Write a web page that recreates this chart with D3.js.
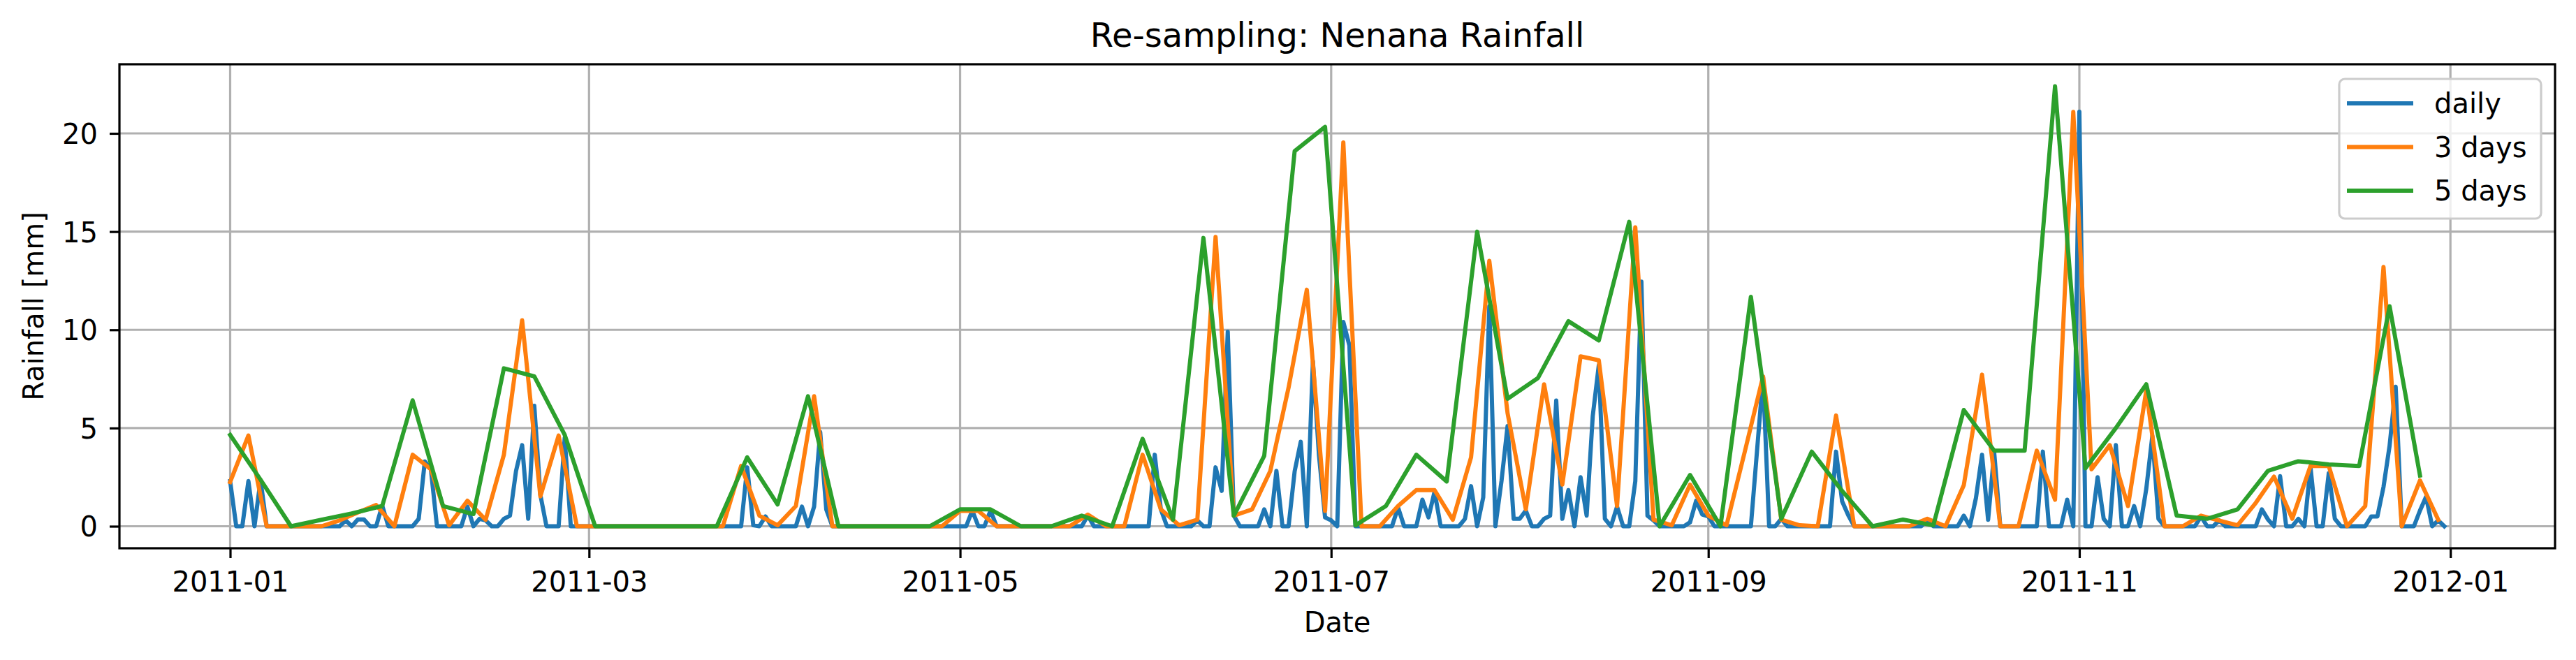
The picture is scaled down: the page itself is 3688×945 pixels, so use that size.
<!DOCTYPE html>
<html><head><meta charset="utf-8">
<script src="https://cdn.jsdelivr.net/npm/d3@7"></script>
<style>body{margin:0;background:#fff} svg{display:block} text{font-family:"DejaVu Sans",sans-serif}</style>
</head><body>
<svg id="chart" width="3688" height="945"></svg>
<script>
// ---------------- DATA ----------------
const startDate = "2011-01-01";
// daily rainfall [mm], one value per day from 2011-01-01
const daily = [
 2.3,0,0,2.3,0,2.35,0,0,0,0,
 0,0,0,0,0,0,0,0,0,0.3,
 0,0.35,0.35,0,0,1.05,0,0,0,0,
 0,0.38,3.3,2.9,0,0,0,0,0,1.0,
 0,0.38,0.3,0,0,0.38,0.54,2.82,4.13,0.38,
 6.13,1.6,0,0,0,4.5,0,0,0,0,
 0,0,0,0,0,0,0,0,0,0,
 0,0,0,0,0,0,0,0,0,0,
 0,0,0,0,0,3.0,0.05,0,0.5,0,
 0,0,0,0,1.0,0,1.0,4.8,0.85,0,
 0,0,0,0,0,0,0,0,0,0,
 0,0,0,0,0,0,0,0,0,0,
 0,0,0.8,0,0,0.8,0,0,0,0,
 0,0,0,0,0,0,0,0,0,0,
 0,0.55,0,0,0,0,0,0,0,0,
 0,0,3.64,0.86,0,0,0,0,0,0.3,
 0,0,3.0,1.8,9.9,0.54,0,0,0,0,
 0.86,0,2.82,0,0,2.8,4.3,0,8.4,3.6,
 0.45,0.3,0,10.4,9.2,0,0,0,0,0,
 0,0,0.95,0,0,0,1.35,0.45,1.76,0,
 0,0,0,0.38,2.04,0,1.47,11.2,0,2.3,
 5.1,0.38,0.38,0.8,0,0,0.38,0.54,6.4,0.38,
 1.84,0,2.5,0.54,5.6,8.2,0.38,0,1.0,0,
 0,2.3,12.45,0.54,0.3,0,0,0,0,0,
 0.2,1.3,0.6,0.5,0,0,0,0,0,0,
 0,3.8,7.6,0,0,0.38,0,0,0,0,
 0,0,0,0,3.8,1.27,0.57,0,0,0,
 0,0,0,0,0,0,0,0,0,0.35,
 0,0,0,0,0,0.54,0,1.44,3.64,0.33,
 3.75,0,0,0,0,0,0,0,3.8,0,
 0,0,1.35,0,21.1,0,0,2.5,0.38,0,
 4.13,0,0,1.03,0,1.9,4.6,0.38,0,0,
 0,0,0,0,0.5,0,0,0.3,0,0,
 0,0,0,0,0.86,0.35,0,2.55,0,0,
 0.38,0,3.0,0,0,2.7,0.38,0,0,0,
 0,0,0.5,0.5,2.0,4.1,7.1,0,0,0,
 0.8,1.5,0,0.3,0
];
// 3-day resampled totals [mm], one value every 3 days from 2011-01-01
const threeDay = [
 2.25,4.62,0,0,0,0,0.3,0.7,1.08,0,
 3.64,2.9,0.05,1.3,0.33,3.64,10.49,1.52,4.62,0,
 0,0,0,0,0,0,0,0,3.07,0.54,
 0.05,1.03,6.62,0,0,0,0,0,0,0,
 0.78,0.78,0,0,0,0,0,0.59,0,0,
 3.64,0.86,0.05,0.33,14.73,0.54,0.86,2.82,7.06,12.04,
 0.78,19.54,0,0,1.03,1.84,1.84,0.33,3.51,13.51,
 5.76,0.86,7.23,2.12,8.65,8.45,1.03,15.22,0.33,0.05,
 2.12,0.54,0.05,3.8,7.63,0.33,0.05,0,5.64,0,
 0,0,0,0.38,0,2.09,7.72,0,0,3.85,
 1.35,21.09,2.9,4.13,1.03,6.9,0,0,0.54,0.29,
 0.05,1.19,2.53,0.38,3.07,3.07,0,1.03,13.2,0,
 2.33,0.33
];
// 5-day resampled totals [mm], one value every 5 days from 2011-01-01
const fiveDay = [
 4.65,2.37,0,0.33,0.65,1.03,6.41,1.03,0.62,8.04,
 7.63,4.65,0,0,0,0,0,3.51,1.11,6.62,
 0,0,0,0,0.86,0.86,0,0,0.54,0,
 4.45,0.33,14.68,0.54,3.59,19.1,20.33,0.05,1.03,3.64,
 2.28,15.0,6.49,7.55,10.44,9.46,15.5,0,2.61,0,
 11.68,0.38,3.8,1.8,0,0.34,0.05,5.92,3.85,3.85,
 22.4,2.95,5.0,7.23,0.54,0.38,0.86,2.82,3.31,3.15,
 3.07,11.2,2.58
];
const seriesNames = ["daily","3 days","5 days"];
const seriesSteps = [1,3,5];
const seriesColors = ["#1f77b4","#ff7f0e","#2ca02c"];
const xTickLabels = ["2011-01","2011-03","2011-05","2011-07","2011-09","2011-11","2012-01"];
const yTickValues = [0,5,10,15,20];
const titleText = "Re-sampling: Nenana Rainfall";
const xLabelText = "Date";
const yLabelText = "Rainfall [mm]";

// ---------------- LAYOUT ----------------
const L = 171, R = 3658, T = 92, B = 785;
const FS = 40, LW = 6, GW = 3.2, TICK = 14;

const svg = d3.select("#chart");
svg.append("rect").attr("width",3688).attr("height",945).attr("fill","#fff");

const parseDay = d3.utcParse("%Y-%m-%d");
const parseMonth = d3.utcParse("%Y-%m");
const t0 = parseDay(startDate);
const DAY = 864e5;
const seriesData = [daily, threeDay, fiveDay].map((arr, k) =>
  arr.map((v, i) => ({date: new Date(+t0 + i * seriesSteps[k] * DAY), value: v})));

const all = seriesData.flat();
const [dmin, dmax] = d3.extent(all, d => d.date);
const span = dmax - dmin;
const x = d3.scaleUtc()
  .domain([new Date(+dmin - 0.05 * span), new Date(+dmax + 0.05 * span)])
  .range([L, R]);
const vmax = d3.max(all, d => d.value);
const y = d3.scaleLinear().domain([-0.05 * vmax, 1.05 * vmax]).range([B, T]);

const xTicks = xTickLabels.map(parseMonth);

// grid
const grid = svg.append("g");
grid.selectAll("line.gx").data(xTicks).join("line")
  .attr("x1", d => x(d)).attr("x2", d => x(d)).attr("y1", T).attr("y2", B)
  .attr("stroke", "#b0b0b0").attr("stroke-width", GW);
grid.selectAll("line.gy").data(yTickValues).join("line")
  .attr("x1", L).attr("x2", R).attr("y1", d => y(d)).attr("y2", d => y(d))
  .attr("stroke", "#b0b0b0").attr("stroke-width", GW);

// clip
svg.append("clipPath").attr("id", "clip").append("rect")
  .attr("x", L).attr("y", T).attr("width", R - L).attr("height", B - T);

const line = d3.line().x(d => x(d.date)).y(d => y(d.value));
const lines = svg.append("g").attr("clip-path", "url(#clip)");
seriesData.forEach((data, k) => {
  lines.append("path").datum(data)
    .attr("d", line)
    .attr("fill", "none")
    .attr("stroke", seriesColors[k])
    .attr("stroke-width", LW)
    .attr("stroke-linejoin", "round")
    .attr("stroke-linecap", "square");
});

// spines
svg.append("rect").attr("x", L).attr("y", T).attr("width", R - L).attr("height", B - T)
  .attr("fill", "none").attr("stroke", "#000").attr("stroke-width", GW);

// axes
const xAxis = d3.axisBottom(x).tickValues(xTicks).tickFormat(d3.utcFormat("%Y-%m"))
  .tickSize(TICK).tickPadding(20);
const gx = svg.append("g").attr("transform", `translate(0,${B})`).call(xAxis);
const yAxis = d3.axisLeft(y).tickValues(yTickValues).tickFormat(d3.format("d"))
  .tickSize(TICK).tickPadding(17);
const gy = svg.append("g").attr("transform", `translate(${L},0)`).call(yAxis);
[gx, gy].forEach(g => {
  g.select(".domain").remove();
  g.selectAll(".tick line").attr("stroke", "#000").attr("stroke-width", GW);
  g.selectAll(".tick text").attr("fill", "#000").attr("font-size", FS)
    .attr("font-family", "DejaVu Sans");
});
gy.selectAll(".tick text").attr("dy", "0.36em");

// labels
svg.append("text").attr("x", (L + R) / 2).attr("y", 67).attr("text-anchor", "middle")
  .attr("font-size", 48).text(titleText);
svg.append("text").attr("x", (L + R) / 2).attr("y", 905).attr("text-anchor", "middle")
  .attr("font-size", FS).text(xLabelText);
svg.append("text").attr("transform", `translate(62,${(T + B) / 2}) rotate(-90)`)
  .attr("text-anchor", "middle").attr("font-size", FS).text(yLabelText);

// legend
const lg = svg.append("g");
lg.append("rect").attr("x", 3349).attr("y", 113).attr("width", 289).attr("height", 200)
  .attr("rx", 8).attr("fill", "#fff").attr("fill-opacity", 0.8)
  .attr("stroke", "#cccccc").attr("stroke-width", GW);
seriesNames.forEach((name, k) => {
  const yy = 148 + k * 62.5;
  lg.append("line").attr("x1", 3363).attr("x2", 3452).attr("y1", yy).attr("y2", yy)
    .attr("stroke", seriesColors[k]).attr("stroke-width", LW).attr("stroke-linecap", "square");
  lg.append("text").attr("x", 3485).attr("y", yy).attr("dy", "0.36em")
    .attr("font-size", FS).text(name);
});
</script>
</body></html>
